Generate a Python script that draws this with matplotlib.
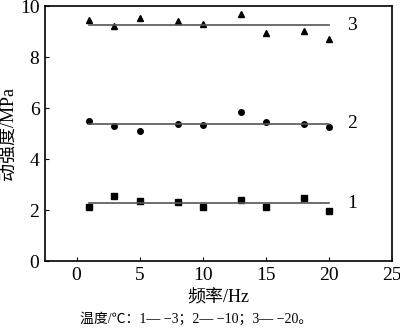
import matplotlib
matplotlib.use("Agg")
import matplotlib.pyplot as plt

freq = [1, 3, 5, 8, 10, 13, 15, 18, 20]
s1 = [2.12, 2.55, 2.37, 2.33, 2.12, 2.40, 2.13, 2.46, 1.97]
s2 = [5.50, 5.28, 5.10, 5.37, 5.32, 5.85, 5.46, 5.36, 5.24]
s3 = [9.45, 9.20, 9.52, 9.42, 9.30, 9.69, 8.93, 9.03, 8.69]
fit = [2.27, 5.38, 9.24]
labels = ["1", "2", "3"]
markers = ["s", "o", "^"]
xticks = [0, 5, 10, 15, 20, 25]
yticks = [0, 2, 4, 6, 8, 10]

fam = ["Liberation Serif", "Noto Sans CJK SC"]
plt.rcParams["font.family"] = fam

fig = plt.figure(figsize=(4.0, 3.36), dpi=100)
ax = fig.add_axes([0.1125, 0.223, 0.868, 0.759])

for ys, f, m, lab in zip([s1, s2, s3], fit, markers, labels):
    ax.plot(freq, ys, linestyle="none", marker=m, color="black", markersize=4)
    ax.plot([freq[0], freq[-1]], [f, f], color="#555555", linewidth=1.2)
    ax.text(21.4, f, lab, fontsize=14, va="center", ha="left")

ax.set_xlim(-2.5, 25)
ax.set_ylim(0, 10)
ax.set_xticks(xticks)
ax.set_yticks(yticks)
ax.tick_params(direction="in", labelsize=14, length=3, top=False, right=False, pad=4)
for sp in ax.spines.values():
    sp.set_linewidth(1.2)
ax.set_xlabel("频率/Hz", fontsize=13, labelpad=4)
ax.set_ylabel("动强度/MPa", fontsize=13, labelpad=2)
fig.text(0.49, 0.05, "温度/℃：1— −3；2— −10；3— −20。", fontsize=10, ha="center", va="center")

fig.savefig("out.png", dpi=100)
